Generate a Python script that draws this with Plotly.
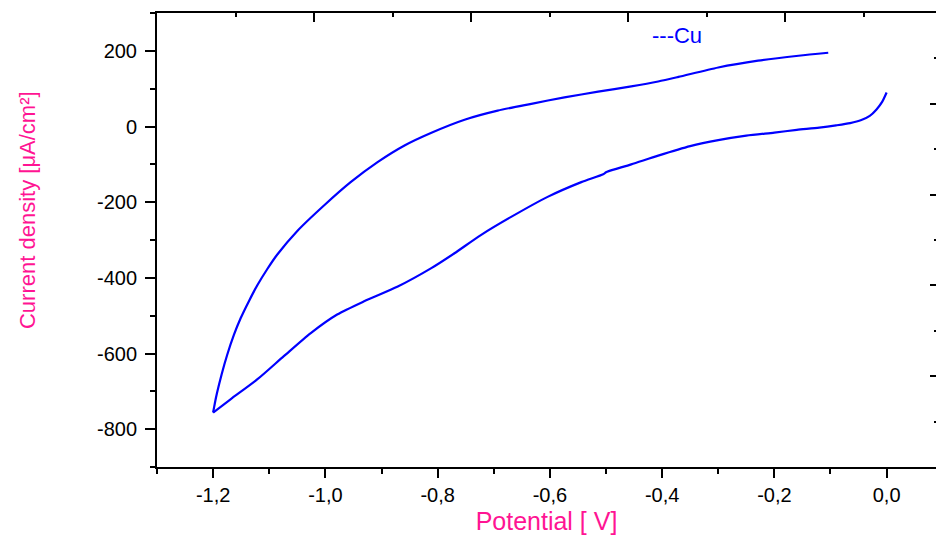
import plotly.graph_objects as go

# Cyclic voltammogram (Cu)
# cathodic (lower) branch: from 0.0 V down to -1.2 V
lower_potential = [0.0, -0.008, -0.018, -0.03, -0.045, -0.065, -0.09, -0.12, -0.16, -0.2,
                   -0.25, -0.3, -0.35, -0.407, -0.455, -0.495, -0.5, -0.505, -0.544, -0.604,
                   -0.669, -0.723, -0.77, -0.812, -0.871, -0.931, -0.979, -1.026, -1.074, -1.121,
                   -1.169, -1.2]
lower_current = [90, 65, 45, 28, 17, 9, 3, -3, -9, -16,
                 -24, -36, -52, -77, -100, -118, -121, -126, -147, -186,
                 -239, -287, -335, -375, -423, -462, -497, -546, -607, -668,
                 -721, -756]
# anodic (upper) branch: from -1.2 V back to -0.1 V
upper_potential = [-1.2, -1.197, -1.193, -1.185, -1.175, -1.163, -1.151, -1.136, -1.121, -1.104,
                   -1.086, -1.05, -1.002, -0.955, -0.907, -0.859,
                   -0.812, -0.752, -0.693, -0.633, -0.574, -0.514, -0.455, -0.407, -0.371, -0.3,
                   -0.229, -0.157, -0.104]
upper_current = [-756, -732, -704, -656, -604, -551, -507, -461, -419, -378,
                 -339, -276, -208, -147, -94, -50,
                 -17, 18, 42, 60, 77, 92, 106, 119, 131, 156,
                 174, 187, 195]

x_ticks = [-1.2, -1.0, -0.8, -0.6, -0.4, -0.2, 0.0]
x_labels = ["-1,2", "-1,0", "-0,8", "-0,6", "-0,4", "-0,2", "0,0"]
y_ticks = [200, 0, -200, -400, -600, -800]
y_labels = ["200", "0", "-200", "-400", "-600", "-800"]

pink = "#FF1493"
blue = "#0000FF"
font_family = "Liberation Sans, Arial, sans-serif"
tick_font = dict(family=font_family, size=20, color="black")

fig = go.Figure()
for xs, ys in [(lower_potential, lower_current), (upper_potential, upper_current)]:
    fig.add_trace(go.Scatter(x=xs, y=ys, mode="lines", name="Cu",
                             line=dict(color=blue, width=2.2, shape="spline", smoothing=0.7),
                             showlegend=False))
# empty trace to anchor the decorative top/right axes
fig.add_trace(go.Scatter(x=[], y=[], xaxis="x2", yaxis="y2", showlegend=False))

fig.update_layout(
    width=936, height=535,
    margin=dict(l=157, r=0, t=13, b=68),
    paper_bgcolor="white", plot_bgcolor="white",
    xaxis=dict(range=[-1.3, 0.088], tickvals=x_ticks, ticktext=x_labels,
               showgrid=False, zeroline=False, showline=True, linecolor="black", linewidth=2,
               ticks="outside", ticklen=9, tickwidth=1.5, tickcolor="black",
               minor=dict(dtick=0.1, tick0=0, ticks="outside", ticklen=5, tickwidth=1.5, tickcolor="black"),
               tickfont=tick_font,
               title=dict(text="Potential [ V]", font=dict(family=font_family, size=25, color=pink),
                          standoff=12)),
    yaxis=dict(range=[-900, 300], tickvals=y_ticks, ticktext=y_labels,
               showgrid=False, zeroline=False, showline=True, linecolor="black", linewidth=2,
               ticks="outside", ticklen=10, tickwidth=1.5, tickcolor="black",
               minor=dict(dtick=100, tick0=0, ticks="outside", ticklen=5, tickwidth=1.5, tickcolor="black"),
               tickfont=tick_font, ticklabelstandoff=4),
    xaxis2=dict(overlaying="x", side="top", range=[0, 4.96], dtick=1, tick0=0,
                showticklabels=False, showgrid=False, zeroline=False,
                showline=True, linecolor="black", linewidth=2,
                ticks="inside", ticklen=9, tickwidth=1.5, tickcolor="black",
                minor=dict(dtick=0.5, tick0=0, ticks="inside", ticklen=4, tickwidth=1.5, tickcolor="black")),
    yaxis2=dict(overlaying="y", side="right", range=[0, 5], dtick=1, tick0=0,
                showticklabels=False, showgrid=False, zeroline=False,
                showline=True, linecolor="black", linewidth=2,
                ticks="inside", ticklen=6, tickwidth=1.5, tickcolor="black",
                minor=dict(dtick=0.5, tick0=0, ticks="inside", ticklen=2, tickwidth=1.5, tickcolor="black")),
    annotations=[
        dict(text="---Cu", x=0.633, y=0.9515, xref="paper", yref="paper",
             xanchor="left", yanchor="middle", showarrow=False,
             font=dict(family=font_family, size=22, color=blue)),
        dict(text="Current density [μA/cm²]", x=-0.1669, y=0.566, xref="paper", yref="paper",
             xanchor="center", yanchor="middle", textangle=-90, showarrow=False,
             font=dict(family=font_family, size=22, color=pink)),
    ],
)

fig.write_html("out.html")
